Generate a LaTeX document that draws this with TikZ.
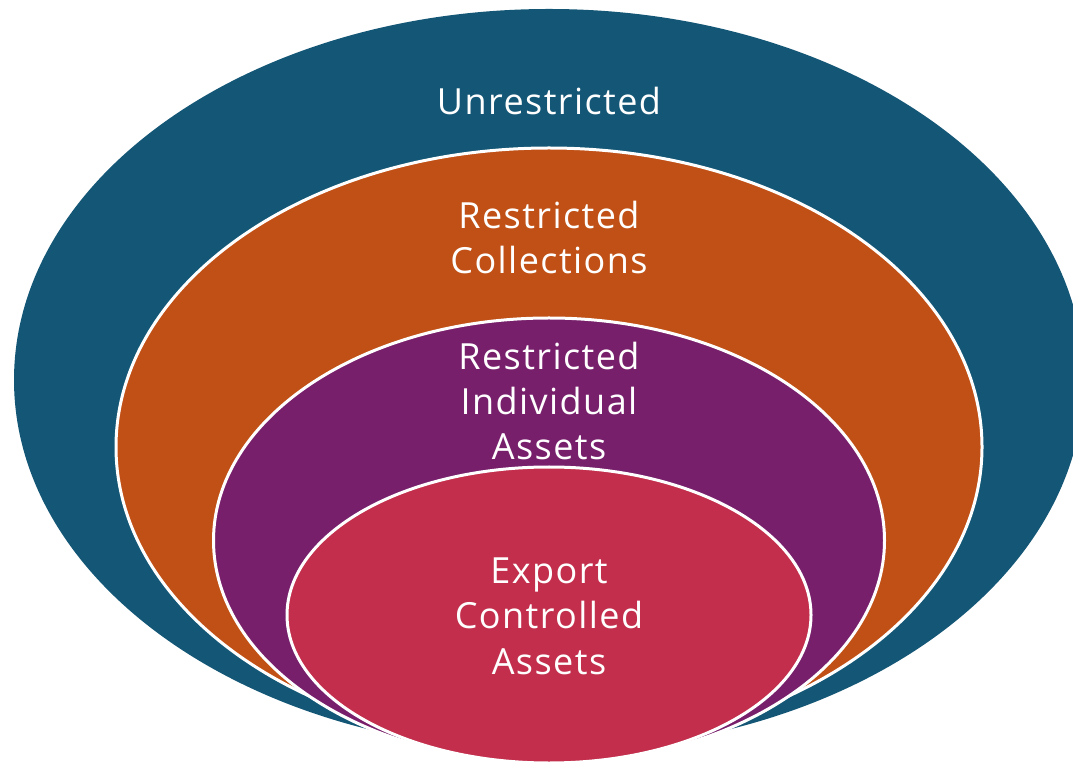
\documentclass[tikz,border=0pt]{standalone}
\usepackage{fontspec}
\setmainfont{Open Sans}[LetterSpace=4]
\usepackage{xcolor}
\usetikzlibrary{positioning}

\definecolor{tealblue}{HTML}{135675}
\definecolor{rustorange}{HTML}{C05015}
\definecolor{plum}{HTML}{771F6B}
\definecolor{crimson}{HTML}{C22E4C}

\begin{document}
\begin{tikzpicture}[x = 0.75pt, y = 0.75pt]
\tikzset{ring/.style = {draw = white, line width = 2.25pt},
  ringtext/.style = {text = white, align = center, font = \fontsize{27}{34}\selectfont}}
\useasboundingbox (0,0) rectangle (1073,764);
\clip (0,0) rectangle (1073,764);

\fill[tealblue] (549,384) ellipse [x radius = 535, y radius = 371];
\draw[ring, fill = rustorange] (549,317) ellipse [x radius = 433, y radius = 299];
\draw[ring, fill = plum] (549,223.5) ellipse [x radius = 335.5, y radius = 222.5];
\draw[ring, fill = crimson] (549,149) ellipse [x radius = 262, y radius = 148];

\node[ringtext] (unres) at (549,663) {Unrestricted};
\node[ringtext] (coll) at (549,526.5) {Restricted\\Collections};
\node[ringtext] (indiv) at (549,363) {Restricted\\Individual\\Assets};
\node[ringtext] (export) at (549,148) {Export\\Controlled\\Assets};
\end{tikzpicture}
\end{document}
